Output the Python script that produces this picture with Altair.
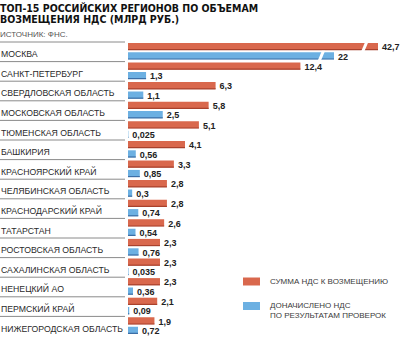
import altair as alt
import pandas as pd

regions = ["МОСКВА", "САНКТ-ПЕТЕРБУРГ", "СВЕРДЛОВСКАЯ ОБЛАСТЬ", "МОСКОВСКАЯ ОБЛАСТЬ",
           "ТЮМЕНСКАЯ ОБЛАСТЬ", "БАШКИРИЯ", "КРАСНОЯРСКИЙ КРАЙ", "ЧЕЛЯБИНСКАЯ ОБЛАСТЬ",
           "КРАСНОДАРСКИЙ КРАЙ", "ТАТАРСТАН", "РОСТОВСКАЯ ОБЛАСТЬ", "САХАЛИНСКАЯ ОБЛАСТЬ",
           "НЕНЕЦКИЙ АО", "ПЕРМСКИЙ КРАЙ", "НИЖЕГОРОДСКАЯ ОБЛАСТЬ"]
refund = [42.7, 12.4, 6.3, 5.8, 5.1, 4.1, 3.3, 2.8, 2.8, 2.6, 2.3, 2.3, 2.3, 2.1, 1.9]
extra = [22, 1.3, 1.1, 2.5, 0.025, 0.56, 0.85, 0.3, 0.74, 0.54, 0.76, 0.035, 0.36, 0.09, 0.72]
series_names = ["СУММА НДС К ВОЗМЕЩЕНИЮ", "ДОНАЧИСЛЕНО НДС|ПО РЕЗУЛЬТАТАМ ПРОВЕРОК"]
colors = ["#d9684d", "#6cb0e2"]
edge_colors = ["#a9412c", "#3b6ea6"]

# broken (truncated) bars: scale breaks
break_region = ["МОСКВА", "МОСКВА"]
break_series = series_names
break_value = [36.5, 18.4]

def fmt(v):
    return f"{v:g}".replace(".", ",")

rows = []
for r, a, b in zip(regions, refund, extra):
    rows.append({"region": r, "series": series_names[0], "value": a, "label": fmt(a)})
    rows.append({"region": r, "series": series_names[1], "value": b, "label": fmt(b)})
df = pd.DataFrame(rows)
red = df[df.series == series_names[0]]
blue = df[df.series == series_names[1]]
breaks = pd.DataFrame({"region": break_region, "series": break_series, "value": break_value})

xscale = alt.Scale(domain=[0, 12.4, 22, 42.7], range=[128, 300.4, 334, 378], zero=False, nice=False)
yscale = alt.Scale(domain=regions, paddingInner=0, paddingOuter=0)
Y = alt.Y("region:N", scale=yscale, axis=None)
X = alt.X("value:Q", scale=xscale, axis=None)

RED_OFF, BLUE_OFF = -5.4, 4.0

sep = alt.Chart(pd.DataFrame({"region": regions})).mark_rule(color="#8a8a8a", strokeWidth=1).encode(
    y=alt.Y("region:N", scale=yscale, axis=None, bandPosition=0),
    x=alt.value(0), x2=alt.value(125))

names = alt.Chart(pd.DataFrame({"region": regions})).mark_text(
    align="left", baseline="middle", font="Liberation Sans", fontSize=8.7, color="#2a2a2a", dy=2.3
).encode(y=Y, x=alt.value(1), text="region:N")

color = alt.Color("series:N", scale=alt.Scale(domain=series_names, range=colors),
                  legend=alt.Legend(orient="none", legendX=243, legendY=231, title=None,
                                    symbolType="M-1,-0.47H1V0.47H-1Z", symbolSize=289,
                                    symbolStrokeWidth=0, labelFont="Liberation Sans",
                                    labelFontSize=8, labelColor="#3a3a3a", labelOffset=10,
                                    labelExpr="split(datum.label, '|')", rowPadding=11.5,
                                    labelLimit=200, padding=0))

red_bar = alt.Chart(red).mark_bar(height=7, yOffset=RED_OFF).encode(
    y=Y, x=X, x2=alt.datum(0), color=color)
blue_bar = alt.Chart(blue).mark_bar(height=7, yOffset=BLUE_OFF).encode(
    y=Y, x=X, x2=alt.datum(0), color=color)
red_edge = alt.Chart(red).mark_bar(height=1.2, yOffset=RED_OFF + 3.2, color=edge_colors[0]).encode(
    y=Y, x=X, x2=alt.datum(0))
blue_edge = alt.Chart(blue).mark_bar(height=1.2, yOffset=BLUE_OFF + 3.2, color=edge_colors[1]).encode(
    y=Y, x=X, x2=alt.datum(0))

brk_red = alt.Chart(breaks[breaks.series == series_names[0]]).mark_point(
    shape="M-0.75,1L-0.1,1L0.75,-1L0.1,-1Z", size=100, filled=True, opacity=1,
    color="white", yOffset=RED_OFF).encode(y=Y, x=X)
brk_blue = alt.Chart(breaks[breaks.series == series_names[1]]).mark_point(
    shape="M-0.75,1L-0.1,1L0.75,-1L0.1,-1Z", size=100, filled=True, opacity=1,
    color="white", yOffset=BLUE_OFF).encode(y=Y, x=X)

lab_kw = dict(align="left", baseline="middle", font="Liberation Sans", fontWeight="bold",
              fontSize=9, color="#222222", dx=4)
red_lab = alt.Chart(red).mark_text(yOffset=RED_OFF + 0.8, **lab_kw).encode(y=Y, x=X, text="label:N")
blue_lab = alt.Chart(blue).mark_text(yOffset=BLUE_OFF + 0.8, **lab_kw).encode(y=Y, x=X, text="label:N")

chart = alt.layer(sep, names, red_bar, red_edge, blue_bar, blue_edge, brk_red, brk_blue,
                  red_lab, blue_lab).properties(
    width=400, height=294,
    title=alt.TitleParams(
        text=["ТОП-15 РОССИЙСКИХ РЕГИОНОВ ПО ОБЪЕМАМ", "ВОЗМЕЩЕНИЯ НДС (МЛРД РУБ.)"],
        subtitle="ИСТОЧНИК: ФНС.", anchor="start", frame="group", offset=2,
        font="DejaVu Sans Condensed, DejaVu Sans", fontSize=10.5, fontWeight="bold",
        color="#111111", lineHeight=11,
        subtitleFont="Liberation Sans", subtitleFontSize=8, subtitleColor="#555555",
        subtitlePadding=6)
).configure_view(stroke=None).properties(
    autosize=alt.AutoSizeParams(type="none"),
    padding={"top": 42, "left": 0, "right": 0, "bottom": 1},
)

chart.save("out.html", embed_options={"renderer": "svg", "actions": False})
